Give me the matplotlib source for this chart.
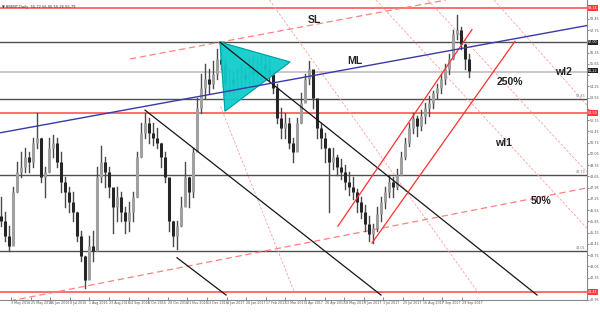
import numpy as np
import matplotlib.pyplot as plt
import matplotlib.transforms as mtransforms

# BRENT daily, one bar every ~3.3 trading days
highs = [47.38, 46.46, 45.55, 47.99, 49.53, 50.14, 50.44, 50.14, 51.06, 52.59,
         51.06, 49.22, 51.06, 51.24, 51.06, 50.14, 48.61, 47.99, 47.69, 46.46,
         45.24, 43.71, 44.93, 45.24, 49.22, 50.57, 49.83, 49.22, 47.69, 47.99,
         47.69, 46.77, 47.08, 47.69, 50.14, 51.98, 52.59, 52.28, 51.98, 51.67,
         50.75, 50.14, 47.99, 45.85, 45.85, 47.38, 49.53, 48.61, 50.44, 53.51,
         55.04, 55.65, 55.34, 55.83, 56.57, 57.00, 55.96, 55.34, 55.16, 55.34,
         55.65, 55.47, 55.96, 56.08, 55.96, 56.14, 56.08, 55.96, 55.34, 54.42,
         52.89, 52.59, 52.28, 51.06, 52.28, 53.81, 55.04, 55.83, 54.85, 53.20,
         51.98, 51.36, 50.44, 50.44, 49.95, 49.71, 49.34, 48.91, 48.61, 47.87,
         47.38, 46.89, 46.16, 45.67, 46.77, 47.38, 47.99, 48.73, 48.61, 49.10,
         50.14, 51.06, 51.98, 52.59, 52.40, 52.77, 53.20, 53.63, 53.99, 54.42,
         55.04, 55.65, 56.26, 57.79, 58.71, 57.92, 56.87, 56.26]
lows = [45.55, 44.63, 44.01, 44.93, 47.69, 48.61, 48.91, 48.91, 49.22, 50.44,
        48.30, 47.38, 48.91, 49.83, 49.22, 47.69, 46.77, 46.46, 45.85, 44.63,
        43.40, 41.69, 42.79, 43.40, 44.32, 48.30, 47.99, 47.38, 45.12, 45.85,
        45.85, 45.12, 45.24, 45.85, 47.38, 49.83, 51.06, 50.75, 50.63, 50.44,
        49.22, 48.30, 45.24, 44.32, 44.14, 45.55, 47.99, 46.77, 47.38, 50.44,
        52.59, 53.51, 53.81, 54.12, 54.73, 55.34, 53.69, 53.81, 53.81, 53.99,
        54.24, 54.12, 54.42, 54.42, 54.49, 54.73, 54.85, 54.61, 53.81, 51.98,
        51.06, 51.06, 50.44, 49.53, 50.44, 51.98, 53.51, 54.42, 52.89, 51.06,
        50.44, 49.53, 46.46, 49.10, 48.73, 48.48, 47.87, 47.50, 47.26, 46.46,
        46.03, 45.24, 44.63, 44.50, 45.24, 45.85, 46.65, 47.38, 47.38, 47.87,
        48.73, 49.71, 50.57, 51.36, 51.18, 51.55, 51.98, 52.40, 52.89, 53.51,
        53.81, 54.42, 55.04, 55.96, 57.18, 56.57, 55.34, 54.85]
closes = [45.85, 44.93, 44.32, 47.69, 48.91, 49.22, 49.83, 49.53, 50.75, 51.06,
          48.61, 48.91, 50.44, 50.75, 49.53, 48.30, 47.69, 47.08, 46.46, 44.93,
          43.71, 42.18, 44.32, 44.01, 48.61, 49.53, 48.91, 47.99, 46.77, 47.38,
          46.46, 45.85, 46.46, 47.38, 49.83, 51.36, 51.98, 51.36, 51.06, 50.75,
          49.83, 48.61, 45.85, 44.93, 45.55, 46.77, 48.61, 47.69, 50.14, 52.89,
          54.12, 54.73, 54.42, 55.04, 55.96, 55.65, 54.42, 54.73, 54.42, 54.85,
          55.04, 54.73, 55.34, 55.04, 55.34, 55.65, 55.34, 55.04, 54.12, 52.28,
          51.67, 51.98, 50.75, 50.14, 51.98, 53.20, 54.73, 55.34, 53.51, 51.67,
          51.06, 50.44, 49.53, 49.83, 49.22, 48.91, 48.30, 47.99, 47.69, 47.08,
          46.46, 45.67, 45.06, 45.42, 46.28, 47.08, 47.69, 48.30, 47.99, 48.73,
          49.83, 50.75, 51.67, 52.28, 51.79, 52.40, 52.89, 53.20, 53.81, 54.12,
          54.73, 55.34, 55.96, 57.49, 57.79, 56.87, 55.96, 55.22]
first_open = 46.20

date_labels = ['3 May 2016', '25 May 2016', '16 Jun 2016', '8 Jul 2016', '1 Aug 2016',
               '23 Aug 2016', '14 Sep 2016', '6 Oct 2016', '28 Oct 2016', '21 Nov 2016',
               '13 Dec 2016', '4 Jan 2017', '26 Jan 2017', '17 Feb 2017', '13 Mar 2017',
               '4 Apr 2017', '26 Apr 2017', '18 May 2017', '9 Jun 2017', '3 Jul 2017',
               '25 Jul 2017', '16 Aug 2017', '7 Sep 2017', '29 Sep 2017']

# horizontal levels
red_levels = [59.14, 52.59, 41.44]
dark_levels = [57.00, 53.45, 48.73, 44.01]
light_levels = [55.16]

# trend objects as (trading day, price) anchors
median_line = [(0, 51.36), (479.2, 58.04)]
upper_parallel = [(106.1, 55.96), (364.1, 59.63)]
lower_parallel = [(0, 40.77), (479.2, 47.93)]
black_lines = [[(179.6, 57.00), (438.4, 41.26)],
               [(118.4, 52.77), (311.0, 41.26)],
               [(144.5, 43.58), (184.5, 41.26)]]
triangle = [(179.6, 57.00), (183.7, 52.71), (236.7, 55.77)]
channel_lines = [[(275.9, 45.55), (385.3, 57.79)],
                 [(303.7, 44.50), (420.4, 57.06)]]
warning_lines = [[(220.0, 59.63), (391.8, 41.26)],
                 [(306.9, 59.63), (479.2, 45.42)],
                 [(349.4, 59.63), (479.2, 48.91)],
                 [(403.3, 59.63), (479.2, 53.08)],
                 [(180.0, 53.0), (240.0, 41.5)]]

# chart annotations: (text, trading day, price)
labels = [('SL', 257.0, 58.40), ('ML', 289.8, 55.83), ('250%', 416.3, 54.55),
          ('wl2', 459.6, 55.16), ('wl1', 411.4, 50.75), ('50%', 441.6, 47.14)]

bar_step = 3.265
xmax = 479.2
ymin, ymax = 41.26, 59.63

fig = plt.figure(figsize=(6.0, 3.13), dpi=100)
ax = fig.add_axes([0.0, 13 / 313, 587 / 600, 300 / 313])
ax.set_xlim(0, xmax)
ax.set_ylim(ymin, ymax)

for lv in light_levels:
    ax.axhline(lv, color='#c8c8c8', lw=1.4, zorder=1)
for lv in dark_levels:
    ax.axhline(lv, color='#505050', lw=1.0, zorder=1)
for lv in red_levels:
    ax.axhline(lv, color='#ff6e6e', lw=1.4, zorder=1)

for (x0, y0), (x1, y1) in warning_lines:
    ax.plot([x0, x1], [y0, y1], color='#ff9c9c', lw=0.6, ls=(0, (3, 2)), zorder=1)

ax.plot(*zip(*upper_parallel), color='#ff8080', lw=0.9, ls=(0, (5, 3)), zorder=2)
ax.plot(*zip(*lower_parallel), color='#ff8080', lw=0.9, ls=(0, (5, 3)), zorder=2)

# candles
opens = [first_open] + closes[:-1]
xs = np.arange(len(closes)) * bar_step + 1.0
for x, o, h, l, c in zip(xs, opens, highs, lows, closes):
    ax.plot([x, x], [l, h], color='#4a4a4a', lw=1.0, zorder=3)
    col = '#a0a0a0' if c >= o else '#262626'
    ax.plot([x, x], [min(o, c), max(o, c)], color=col, lw=2.2,
            solid_capstyle='butt', zorder=4)

ax.fill(*zip(*triangle), color='#11cccc', alpha=0.95, zorder=5)
ax.plot(*zip(*(triangle + triangle[:1])), color='#009999', lw=0.6, zorder=5)

for (x0, y0), (x1, y1) in black_lines:
    ax.plot([x0, x1], [y0, y1], color='#151515', lw=0.9, zorder=6)
for (x0, y0), (x1, y1) in channel_lines:
    ax.plot([x0, x1], [y0, y1], color='#ff3030', lw=0.9, zorder=6)
ax.plot(*zip(*median_line), color='#3a3aa8', lw=1.0, zorder=6)

for txt, x, y in labels:
    ax.text(x, y, txt, fontsize=7.5, fontweight='bold', color='#222222',
            ha='center', va='center', zorder=8, family='Liberation Sans')

# axes frame
for s in ['top', 'left']:
    ax.spines[s].set_visible(False)
for s in ['right', 'bottom']:
    ax.spines[s].set_color('#888888')
    ax.spines[s].set_linewidth(0.8)

box_red = red_levels
box_dark = [57.00, closes[-1]]
box_levels = box_red + box_dark

price_ticks = np.arange(40.95, 59.7, 0.70)
ax.yaxis.tick_right()
ax.set_yticks(price_ticks)
ax.set_yticklabels(['' if min(abs(p - b) for b in box_levels) < 0.3 else '%.2f' % p
                    for p in price_ticks])
ax.tick_params(axis='y', labelsize=2.4, length=1.5, width=0.5, pad=0.5,
               colors='#555555')

tick_x = np.arange(len(date_labels)) * 16 + 9
ax.set_xticks(tick_x)
ax.set_xticklabels(date_labels, ha='left')
ax.tick_params(axis='x', labelsize=2.3, length=2, width=0.5, pad=0.5,
               colors='#555555', direction='in')

# price boxes on the right scale
tr = mtransforms.blended_transform_factory(ax.transAxes, ax.transData)
for levels, fc in [(box_red, '#ff3b3b'), (box_dark, '#222222')]:
    for lv in levels:
        ax.text(1.002, lv, '%.2f' % lv, transform=tr, fontsize=2.4, color='white',
                va='center', ha='left', clip_on=False, zorder=9,
                bbox=dict(boxstyle='square,pad=0.2', fc=fc, ec='none'))
for lv in [53.45, 48.73, 44.01]:
    ax.text(0.997, lv + 0.08, '%.2f' % lv, transform=tr, fontsize=2.4,
            color='#777777', va='bottom', ha='right', zorder=9)

fig.text(0.004, 0.985, '\u25bc BRENT,Daily  55.72 56.06 55.26 55.79', fontsize=2.6,
         color='#333333', va='top', ha='left')

fig.savefig('out.png', dpi=100, facecolor='white')
